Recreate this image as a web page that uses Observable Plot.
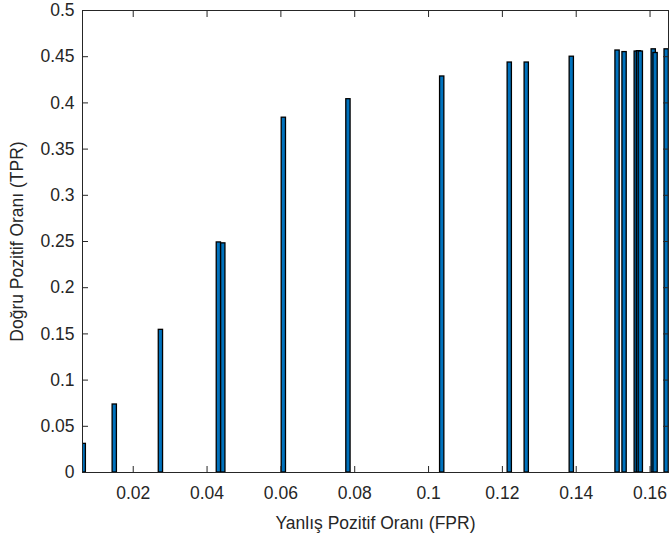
<!DOCTYPE html>
<html>
<head>
<meta charset="utf-8">
<script src="https://cdn.jsdelivr.net/npm/d3@7"></script>
<script src="https://cdn.jsdelivr.net/npm/@observablehq/plot@0.6"></script>
<style>
  html, body { margin: 0; padding: 0; background: #fff; }
  #chart svg { display: block; }
</style>
</head>
<body>
<div id="chart"></div>
<script>
// FPR (x) positions of the bars and their TPR (y) heights
const fpr = [0.0066, 0.0150, 0.0275, 0.0432, 0.0444, 0.0608, 0.0783, 0.1037, 0.1220, 0.1266, 0.1388, 0.1512, 0.1531, 0.1564, 0.1570, 0.1575, 0.1610, 0.1615, 0.1645];
const tpr = [0.031, 0.0736, 0.1544, 0.249, 0.248, 0.384, 0.404, 0.4286, 0.4437, 0.4437, 0.450, 0.4567, 0.455, 0.4556, 0.456, 0.4556, 0.458, 0.454, 0.458];
const xTicks = [0.02, 0.04, 0.06, 0.08, 0.1, 0.12, 0.14, 0.16];
const yTicks = [0, 0.05, 0.1, 0.15, 0.2, 0.25, 0.3, 0.35, 0.4, 0.45, 0.5];
const xLabel = "Yanlış Pozitif Oranı (FPR)";
const yLabel = "Doğru Pozitif Oranı (TPR)";

const data = fpr.map((x, i) => ({x, y: tpr[i]}));
const halfW = 0.00058;
const fmt = d => String(+d.toFixed(2));
const ink = "#262626";

const chart = Plot.plot({
  width: 670,
  height: 539,
  marginLeft: 82,
  marginRight: 2,
  marginTop: 10,
  marginBottom: 67,
  style: {fontFamily: "'Liberation Sans', Arial, Helvetica, sans-serif", fontSize: "17px", color: ink, background: "#fff"},
  x: {domain: [0.00626, 0.165]},
  y: {domain: [0, 0.5]},
  marks: [
    Plot.rectY(data, {x1: d => d.x - halfW, x2: d => d.x + halfW, y: "y", fill: "#0072BD", stroke: "#000", strokeWidth: 1.3, clip: true}),
    Plot.frame({stroke: ink, strokeWidth: 1}),
    Plot.axisX({ticks: xTicks, tickFormat: fmt, tickSize: -6, tickPadding: 20, label: xLabel, labelAnchor: "center", labelArrow: "none", labelOffset: 56, stroke: ink, fill: ink, fontSize: 17.5}),
    Plot.axisX({anchor: "top", ticks: xTicks, tickFormat: () => null, tickSize: -6, label: null, stroke: ink}),
    Plot.axisY({ticks: yTicks, tickFormat: fmt, tickSize: -6, tickPadding: 14, label: yLabel, labelAnchor: "center", labelArrow: "none", labelOffset: 72, stroke: ink, fill: ink, fontSize: 17.5}),
    Plot.axisY({anchor: "right", ticks: yTicks, tickFormat: () => null, tickSize: -6, label: null, stroke: ink})
  ]
});
document.getElementById("chart").appendChild(chart);
</script>
</body>
</html>
